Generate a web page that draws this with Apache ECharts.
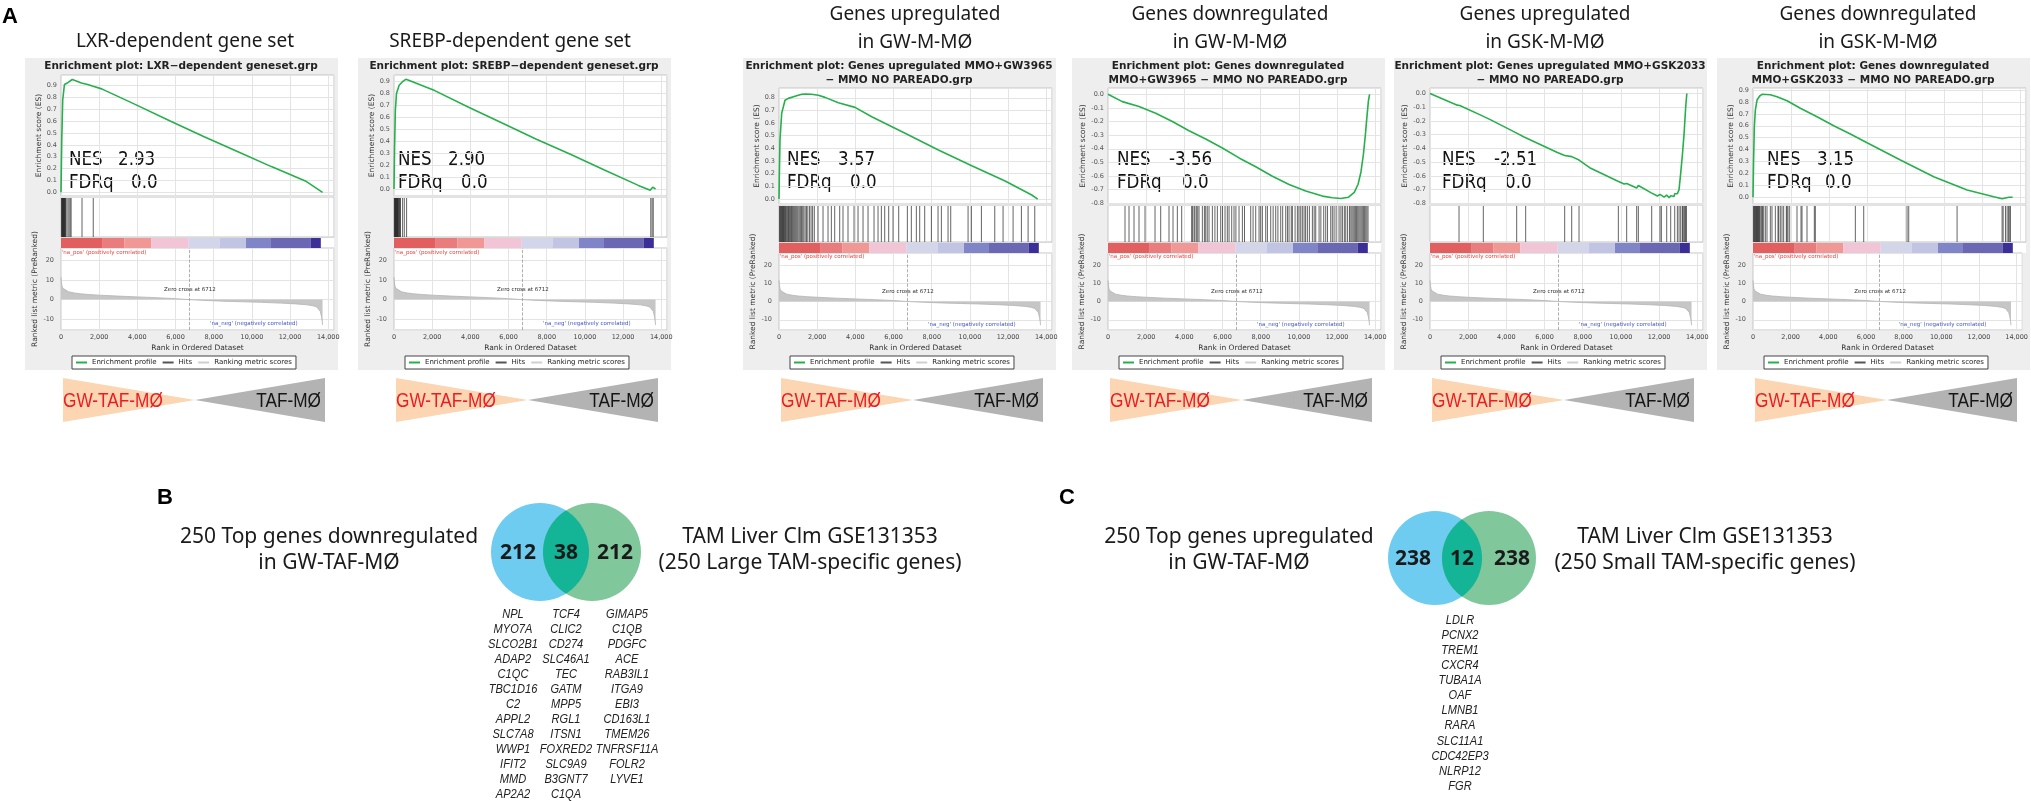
<!DOCTYPE html>
<html>
<head>
<meta charset="utf-8">
<script src="https://cdn.jsdelivr.net/npm/echarts@6.0.0/dist/echarts.min.js"></script>
<style>
html, body { margin: 0; padding: 0; background: #fff; }
#main { width: 2031px; height: 801px; }
</style>
</head>
<body>
<div id="main"></div>
<script>
// ---- data ----
var headings = [
  ['LXR-dependent gene set'],
  ['SREBP-dependent gene set'],
  ['Genes upregulated', 'in GW-M-MØ'],
  ['Genes downregulated', 'in GW-M-MØ'],
  ['Genes upregulated', 'in GSK-M-MØ'],
  ['Genes downregulated', 'in GSK-M-MØ']
];
var plotTitles = [
  ['Enrichment plot: LXR\u2212dependent geneset.grp'],
  ['Enrichment plot: SREBP\u2212dependent geneset.grp'],
  ['Enrichment plot: Genes upregulated MMO+GW3965', '\u2212 MMO NO PAREADO.grp'],
  ['Enrichment plot: Genes downregulated', 'MMO+GW3965 \u2212 MMO NO PAREADO.grp'],
  ['Enrichment plot: Genes upregulated MMO+GSK2033', '\u2212 MMO NO PAREADO.grp'],
  ['Enrichment plot: Genes downregulated', 'MMO+GSK2033 \u2212 MMO NO PAREADO.grp']
];
var nesValues = ['2.93', '2.90', '3.57', '-3.56', '-2.51', '3.15'];
var fdrValues = ['0.0', '0.0', '0.0', '0.0', '0.0', '0.0'];

// running enrichment score, [rank, ES]
var esLxr = [[0, 0], [40, 0.45], [90, 0.78], [180, 0.91], [260, 0.92], [355, 0.925], [450, 0.94],
  [590, 0.952], [800, 0.94], [1066, 0.922], [1100, 0.93], [1400, 0.91], [1680, 0.895], [1700, 0.9],
  [2130, 0.873], [3910, 0.74], [5690, 0.604], [7470, 0.471], [9240, 0.344], [11020, 0.217],
  [12800, 0.096], [13700, 0]];
var esSrebp = [[0, 0], [30, 0.35], [71, 0.66], [130, 0.8], [270, 0.87], [445, 0.9], [540, 0.91],
  [620, 0.92], [660, 0.915], [800, 0.91], [2130, 0.825], [3910, 0.685], [5690, 0.551], [7460, 0.417],
  [9240, 0.291], [11020, 0.159], [12800, 0.03], [13420, -0.01], [13450, 0.005], [13550, 0.015],
  [13620, 0.02], [13700, 0]];
var esUpGw = [[0, 0], [20, 0.2], [52, 0.466], [140, 0.677], [314, 0.78], [489, 0.795], [838, 0.811],
  [1188, 0.827], [1362, 0.83], [1700, 0.828], [2060, 0.82], [2410, 0.803], [3110, 0.76], [3983, 0.724],
  [4857, 0.65], [6604, 0.519], [8350, 0.387], [10096, 0.263], [11843, 0.142], [13240, 0.032], [13550, 0]];
var esDownGw = [[0, 0], [751, -0.054], [1624, -0.09], [2498, -0.139], [3371, -0.2], [4245, -0.268],
  [5118, -0.328], [5991, -0.394], [6865, -0.467], [7738, -0.532], [8612, -0.601], [9485, -0.662],
  [10358, -0.71], [11232, -0.747], [11756, -0.759], [12200, -0.765], [12600, -0.755], [12900, -0.72],
  [13100, -0.66], [13250, -0.57], [13380, -0.44], [13480, -0.3], [13560, -0.17], [13640, -0.05], [13700, 0]];
var esUpGsk = [[0, 0], [1431, -0.085], [1520, -0.075], [1560, -0.088], [2743, -0.163], [2793, -0.155],
  [2830, -0.167], [3180, -0.192], [4490, -0.285], [4540, -0.278], [4927, -0.317], [5011, -0.31],
  [6674, -0.43], [7055, -0.452], [7100, -0.445], [7422, -0.46], [7806, -0.485], [8420, -0.545],
  [9817, -0.637], [9866, -0.63], [10167, -0.66], [10302, -0.655], [10826, -0.688], [10866, -0.675],
  [10914, -0.67], [11565, -0.722], [11613, -0.71], [11914, -0.747], [12049, -0.735], [12120, -0.725],
  [12263, -0.755], [12399, -0.74], [12525, -0.76], [12608, -0.745], [12787, -0.75], [12818, -0.73],
  [12958, -0.73], [13045, -0.7], [13132, -0.58], [13219, -0.45], [13306, -0.3], [13393, -0.1], [13453, 0]];
var esDownGsk = [[0, 0], [30, 0.3], [70, 0.59], [122, 0.73], [210, 0.816], [350, 0.85], [472, 0.864],
  [909, 0.86], [1258, 0.844], [1782, 0.81], [2480, 0.747], [3354, 0.676], [4227, 0.6], [5100, 0.531],
  [5974, 0.458], [7720, 0.313], [9467, 0.173], [11214, 0.061], [12611, 0.005], [13047, -0.012],
  [13230, -0.005], [13400, 0], [13490, 0.008], [13600, 0]];

// positions of the gene-set members in the ranked list
var hitsLxr = [30, 50, 70, 90, 110, 130, 150, 170, 190, 210, 240, 270, 360, 420, 480, 530, 1100, 1690];
var hitsSrebp = [20, 40, 60, 80, 100, 120, 140, 160, 180, 200, 220, 250, 280, 310, 340, 450, 540, 660,
  13450, 13520, 13580];
var hitsUpGw = [30, 60, 90, 120, 150, 180, 210, 240, 270, 300, 340, 380, 420, 460, 500, 540, 580, 620,
  660, 700, 750, 800, 850, 900, 950, 1000, 1060, 1120, 1180, 1240, 1300, 1370, 1440, 1510, 1600, 1680,
  1760, 1850, 2044, 2306, 2568, 2743, 2917, 3179, 3353, 3615, 3930, 4140, 4402, 4664, 4978, 5188, 5362,
  5537, 5746, 5973, 6270, 6724, 6933, 7195, 7370, 7632, 7982, 8331, 8506, 8855, 8995, 9904, 10079,
  10603, 11302, 11737, 12262, 12698, 13048, 13397];
var hitsDownGw = [891, 1100, 1362, 1624, 1939, 2463, 2760, 3196, 3406, 3633, 3860, 4384, 4420, 4506,
  4550, 4629, 4700, 4768, 4943, 5050, 5118, 5200, 5292, 5467, 5600, 5729, 5904, 6000, 6131, 6250, 6341,
  6480, 6602, 6700, 6864, 7039, 7150, 7475, 7600, 7737, 7912, 8000, 8087, 8261, 8350, 8523, 8650, 8785,
  8900, 9047, 9150, 9309, 9400, 9483, 9600, 9658, 9800, 9920, 10000, 10095, 10180, 10270, 10350, 10444,
  10550, 10706, 10800, 10881, 11056, 11150, 11300, 11405, 11500, 11667, 11750, 11842, 11950, 12104,
  12200, 12279, 12380, 12453, 12550, 12650, 12720, 12780, 12840, 12900, 12960, 13020, 13080, 13140,
  13200, 13260, 13320, 13380, 13440, 13500, 13560, 13620];
var hitsUpGsk = [1520, 2793, 4540, 5011, 7055, 7422, 7806, 9866, 10302, 10826, 10914, 11613, 12049,
  12120, 12399, 12608, 12818, 12958, 13045, 13132, 13219, 13250, 13306, 13350, 13393, 13430];
var hitsDownGsk = [30, 60, 90, 120, 150, 180, 210, 240, 270, 300, 330, 360, 419, 471, 489, 559, 646,
  733, 908, 995, 1170, 1309, 1345, 1431, 1519, 1606, 1746, 1781, 1833, 1921, 2305, 2515, 2567, 2829,
  3213, 3265, 5361, 5799, 8068, 8156, 10690, 13047, 13103, 13225, 13312, 13396, 13417, 13486];

// ranked list metric (same list in every panel)
var metricRanks = [0, 20, 50, 100, 200, 400, 700, 1000, 1500, 2000, 3000, 4000, 5000, 6000, 6712,
  7500, 8500, 9500, 10500, 11500, 12300, 12900, 13200, 13400, 13500, 13580, 13640, 13680, 13700];
var metricScores = [11.5, 9, 7, 5.8, 4.8, 4, 3.4, 3, 2.6, 2.3, 1.8, 1.4, 1, 0.5, 0, -0.4, -0.8, -1.1,
  -1.4, -1.8, -2.2, -2.7, -3.2, -3.8, -4.5, -6, -8.5, -11, -13];
var zeroCross = 6712;
var colorBarEdges = [0, 2150, 3330, 4720, 6690, 8300, 9690, 10960, 13090, 13610];

// Venn diagrams
var vennBCounts = [212, 38, 212];
var vennCCounts = [238, 12, 238];
var vennBLeft = ['250 Top genes downregulated', 'in GW-TAF-MØ'];
var vennBRight = ['TAM Liver Clm GSE131353', '(250 Large TAM-specific genes)'];
var vennCLeft = ['250 Top genes upregulated', 'in GW-TAF-MØ'];
var vennCRight = ['TAM Liver Clm GSE131353', '(250 Small TAM-specific genes)'];
var genesB1 = ['NPL', 'MYO7A', 'SLCO2B1', 'ADAP2', 'C1QC', 'TBC1D16', 'C2', 'APPL2', 'SLC7A8', 'WWP1', 'IFIT2', 'MMD', 'AP2A2'];
var genesB2 = ['TCF4', 'CLIC2', 'CD274', 'SLC46A1', 'TEC', 'GATM', 'MPP5', 'RGL1', 'ITSN1', 'FOXRED2', 'SLC9A9', 'B3GNT7', 'C1QA'];
var genesB3 = ['GIMAP5', 'C1QB', 'PDGFC', 'ACE', 'RAB3IL1', 'ITGA9', 'EBI3', 'CD163L1', 'TMEM26', 'TNFRSF11A', 'FOLR2', 'LYVE1'];
var genesC = ['LDLR', 'PCNX2', 'TREM1', 'CXCR4', 'TUBA1A', 'OAF', 'LMNB1', 'RARA', 'SLC11A1', 'CDC42EP3', 'NLRP12', 'FGR'];

// ---- layout / styles ----
var panelEs = [esLxr, esSrebp, esUpGw, esDownGw, esUpGsk, esDownGsk];
var panelHits = [hitsLxr, hitsSrebp, hitsUpGw, hitsDownGw, hitsUpGsk, hitsDownGsk];
var boxLeft = [25, 358, 743, 1072, 1394, 1717];
var headCenter = [185, 510, 915, 1230, 1545, 1878];
var nesPos = [[8, 57, 70], [4, 54, 67], [8, 59, 71], [9, 61, 74], [12, 64, 75], [14, 64, 72]];
var esRange = [[-0.031, 0.99], [-0.059, 0.956], [-0.039, 0.877], [-0.805, 0.046], [-0.805, 0.04], [-0.056, 0.917]];
var colorBarColors = ['#e25f5f', '#e97c7d', '#ef9896', '#f2c5d6', '#d3d5eb', '#c2c4e3', '#7f85c7', '#6a68b3', '#3b2f97'];
var XMAX = 14300;
var green = '#26b04b';
var dv = '"DejaVu Sans", sans-serif';

var chart = echarts.init(document.getElementById('main'));
var grids = [], xAxes = [], yAxes = [], series = [], legends = [], graphics = [];

function onStep(v, step) {
  var q = v / step;
  return Math.abs(q - Math.round(q)) < 1e-6;
}
function txt(x, y, s, font, color, align, scaleX) {
  var el = {
    type: 'text', x: x, y: y, silent: true,
    style: { text: s, font: font, fill: color || '#222', textAlign: align || 'center', textVerticalAlign: 'middle' }
  };
  if (scaleX) el.scaleX = scaleX;
  return el;
}
function xAxisFor(gi, withLabels, grid) {
  return {
    type: 'value', gridIndex: gi, min: 0, max: XMAX, interval: 2000,
    axisLine: { show: false }, axisTick: { show: false },
    splitLine: { show: grid, lineStyle: { color: '#e4e4e4', width: 1 } },
    axisLabel: withLabels ? {
      fontSize: 6.5, color: '#444', margin: 4, fontFamily: dv,
      formatter: function (v) { return onStep(v, 2000) ? v.toLocaleString('en-US') : ''; }
    } : { show: false },
    name: withLabels ? 'Rank in Ordered Dataset' : '',
    nameLocation: 'middle', nameGap: 14,
    nameTextStyle: { fontSize: 7.5, color: '#333', fontFamily: dv }
  };
}

for (var i = 0; i < 6; i++) {
  var bl = boxLeft[i], pl = bl + 36, pw = 273;
  var two = headings[i].length > 1;
  var esTop = two ? 88 : 75, esH = two ? 116 : 121;
  var hitsTop = esTop + esH + 1, hitsH = two ? 37 : 40;
  var cbTop = hitsTop + hitsH + 1, cbH = 10;
  var mTop = cbTop + cbH, mH = 330 - mTop;
  var g = grids.length;

  grids.push({ left: pl, top: esTop, width: pw, height: esH, show: true, backgroundColor: '#fff', borderColor: '#c4c4c4', borderWidth: 1 });
  grids.push({ left: pl, top: hitsTop, width: pw, height: hitsH, show: true, backgroundColor: '#fff', borderColor: '#c4c4c4', borderWidth: 1 });
  grids.push({ left: pl, top: cbTop, width: pw, height: cbH, show: true, backgroundColor: '#fff', borderWidth: 0 });
  grids.push({ left: pl, top: mTop, width: pw, height: mH, show: true, backgroundColor: '#fff', borderColor: '#c4c4c4', borderWidth: 1 });

  xAxes.push(xAxisFor(g, false, true));
  xAxes.push(xAxisFor(g + 1, false, true));
  xAxes.push(xAxisFor(g + 2, false, false));
  xAxes.push(xAxisFor(g + 3, true, true));

  yAxes.push({
    type: 'value', gridIndex: g, min: esRange[i][0], max: esRange[i][1],
    splitNumber: 10, minInterval: 0.1, maxInterval: 0.1,
    axisLine: { show: false }, axisTick: { show: false },
    splitLine: { lineStyle: { color: '#e4e4e4' } },
    axisLabel: {
      fontSize: 6.5, color: '#555', margin: 4, fontFamily: dv,
      formatter: function (v) { return onStep(v, 0.1) ? v.toFixed(1) : ''; }
    },
    name: 'Enrichment score (ES)', nameLocation: 'middle', nameGap: 18,
    nameTextStyle: { fontSize: 7.5, color: '#333', fontFamily: dv }
  });
  yAxes.push({ type: 'value', gridIndex: g + 1, min: 0, max: 1, show: false });
  yAxes.push({ type: 'value', gridIndex: g + 2, min: 0, max: 1, show: false });
  yAxes.push({
    type: 'value', gridIndex: g + 3, min: -15.6, max: 26.5,
    splitNumber: 4, minInterval: 10, maxInterval: 10,
    axisLine: { show: false }, axisTick: { show: false },
    splitLine: { lineStyle: { color: '#e4e4e4' } },
    axisLabel: {
      fontSize: 6.5, color: '#555', margin: 7, fontFamily: dv,
      formatter: function (v) { return onStep(v, 10) ? String(Math.round(v)) : ''; }
    },
    name: 'Ranked list metric (PreRanked)', nameLocation: 'middle', nameGap: 18,
    nameTextStyle: { fontSize: 7.5, color: '#333', fontFamily: dv }
  });

  series.push({
    type: 'line', name: 'Enrichment profile', xAxisIndex: g, yAxisIndex: g,
    data: panelEs[i], showSymbol: false, silent: true, z: 4,
    lineStyle: { color: green, width: 1.6 }, itemStyle: { color: green }
  });
  series.push({
    type: 'custom', name: 'Hits', xAxisIndex: g + 1, yAxisIndex: g + 1, silent: true,
    data: panelHits[i].map(function (r) { return [r, 0]; }),
    encode: { x: 0, y: 1 },
    itemStyle: { color: '#555' },
    renderItem: function (params, api) {
      var a = api.coord([api.value(0), 1]);
      var b = api.coord([api.value(0), 0]);
      return { type: 'line', shape: { x1: a[0], y1: a[1] + 1, x2: b[0], y2: b[1] }, style: { stroke: '#1c1c1c', lineWidth: 1, opacity: 0.68 } };
    }
  });
  series.push({
    type: 'custom', name: 'Color bar', xAxisIndex: g + 2, yAxisIndex: g + 2, silent: true,
    data: colorBarEdges.slice(0, -1).map(function (s, k) { return [s, colorBarEdges[k + 1], k, 0]; }),
    encode: { x: [0, 1], y: 3 },
    renderItem: function (params, api) {
      var a = api.coord([api.value(0), 1]);
      var b = api.coord([api.value(1), 0]);
      return { type: 'rect', shape: { x: a[0], y: a[1], width: b[0] - a[0], height: b[1] - a[1] }, style: { fill: colorBarColors[api.value(2)] } };
    }
  });
  series.push({
    type: 'line', name: 'Ranking metric scores', xAxisIndex: g + 3, yAxisIndex: g + 3, silent: true,
    data: metricRanks.map(function (r, k) { return [r, metricScores[k]]; }),
    showSymbol: false, z: 3,
    lineStyle: { color: '#b4b4b4', width: 0.8 }, itemStyle: { color: '#c8c8c8' },
    areaStyle: { color: '#c6c6c6', opacity: 1 },
    markLine: {
      silent: true, symbol: ['none', 'none'], label: { show: false },
      lineStyle: { type: 'dashed', color: '#9a9a9a', width: 0.8 },
      data: [{ xAxis: zeroCross }]
    },
    markPoint: {
      silent: true, symbol: 'circle', symbolSize: 0.1, itemStyle: { color: 'rgba(0,0,0,0)' },
      label: { fontSize: 5.5, fontFamily: dv },
      data: [
        { coord: [zeroCross + 40, 5.2], label: { formatter: 'Zero cross at ' + zeroCross, color: '#333', position: 'inside' } },
        { coord: [40, 24.3], label: { formatter: "'na_pos' (positively correlated)", color: '#e8443f', position: 'right', distance: 0 } },
        { coord: [12400, -12.4], label: { formatter: "'na_neg' (negatively correlated)", color: '#4457c4', position: 'left', distance: 0 } }
      ]
    }
  });

  legends.push({
    left: bl + 47, top: 356, orient: 'horizontal', selectedMode: false,
    itemWidth: 11, itemHeight: 2, itemGap: 6, padding: [3, 4],
    borderColor: '#444', borderWidth: 1, backgroundColor: '#fff', borderRadius: 0,
    textStyle: { fontSize: 7, color: '#222', fontFamily: dv },
    data: [
      { name: 'Enrichment profile', icon: 'rect', itemStyle: { color: green } },
      { name: 'Hits', icon: 'rect', itemStyle: { color: '#555' } },
      { name: 'Ranking metric scores', icon: 'rect', itemStyle: { color: '#cfcfcf' } }
    ]
  });

  // panel background, headings, titles, NES
  graphics.push({ type: 'rect', z: -10, silent: true, shape: { x: bl, y: 58, width: 313, height: 312 }, style: { fill: '#eeeeee' } });
  if (two) {
    graphics.push(txt(headCenter[i], 15, headings[i][0], '19px "Noto Sans"', '#1a1a1a'));
    graphics.push(txt(headCenter[i], 43, headings[i][1], '19px "Noto Sans"', '#1a1a1a'));
    graphics.push(txt(bl + 156, 66, plotTitles[i][0], 'bold 10.5px ' + dv, '#222'));
    graphics.push(txt(bl + 156, 80, plotTitles[i][1], 'bold 10.5px ' + dv, '#222'));
  } else {
    graphics.push(txt(headCenter[i], 42, headings[i][0], '19px "Noto Sans"', '#1a1a1a'));
    graphics.push(txt(bl + 156, 66, plotTitles[i][0], 'bold 10.5px ' + dv, '#222'));
  }
  var nf = '19px "DejaVu Sans"';
  graphics.push(txt(pl + nesPos[i][0], 160, 'NES', nf, '#111', 'left', 0.88));
  graphics.push(txt(pl + nesPos[i][1], 160, nesValues[i], nf, '#111', 'left', 0.88));
  graphics.push(txt(pl + nesPos[i][0], 183, 'FDRq', nf, '#111', 'left', 0.88));
  graphics.push(txt(pl + nesPos[i][2], 183, fdrValues[i], nf, '#111', 'left', 0.88));

  // phenotype triangles
  graphics.push({ type: 'polygon', silent: true, shape: { points: [[bl + 38, 378], [bl + 170, 400], [bl + 38, 422]] }, style: { fill: '#fcd6b2' } });
  graphics.push({ type: 'polygon', silent: true, shape: { points: [[bl + 170, 400], [bl + 300, 378], [bl + 300, 422]] }, style: { fill: '#b3b3b3' } });
  graphics.push(txt(bl + 38, 401, 'GW-TAF-MØ', '21px "Liberation Sans"', '#ec1c24', 'left', 0.82));
  graphics.push(txt(bl + 296, 401, 'TAF-MØ', '21px "Liberation Sans"', '#151515', 'right', 0.82));
}

graphics.push(txt(10, 17, 'A', 'bold 22px "Liberation Sans"', '#000'));

function lensPoints(cx1, cx2, cy, r) {
  var hd = (cx2 - cx1) / 2, a = Math.acos(hd / r), pts = [], n = 40, k, t;
  for (k = 0; k <= n; k++) {
    t = -a + 2 * a * k / n;
    pts.push([cx1 + r * Math.cos(t), cy + r * Math.sin(t)]);
  }
  for (k = 0; k <= n; k++) {
    t = a - 2 * a * k / n;
    pts.push([cx2 - r * Math.cos(t), cy + r * Math.sin(t)]);
  }
  return pts;
}
function venn(label, lx, ly, cx1, cx2, cy, r, counts, leftText, leftX, rightText, rightX) {
  var tf = '21px "Noto Sans"', cf = 'bold 21px "Noto Sans"';
  graphics.push(txt(lx, ly, label, 'bold 22px "Liberation Sans"', '#000'));
  graphics.push(txt(leftX, 537, leftText[0], tf, '#1a1a1a'));
  graphics.push(txt(leftX, 563, leftText[1], tf, '#1a1a1a'));
  graphics.push(txt(rightX, 537, rightText[0], tf, '#1a1a1a'));
  graphics.push(txt(rightX, 563, rightText[1], tf, '#1a1a1a'));
  graphics.push({ type: 'circle', silent: true, shape: { cx: cx1, cy: cy, r: r }, style: { fill: '#6dccf0' } });
  graphics.push({ type: 'circle', silent: true, shape: { cx: cx2, cy: cy, r: r }, style: { fill: '#80c89b' } });
  graphics.push({ type: 'polygon', silent: true, shape: { points: lensPoints(cx1, cx2, cy, r) }, style: { fill: '#14b497' } });
  var xm = (cx1 + cx2) / 2;
  graphics.push(txt(cx1 - 22, cy + 1, String(counts[0]), cf, '#1a1a1a'));
  graphics.push(txt(xm, cy + 1, String(counts[1]), cf, '#1a1a1a'));
  graphics.push(txt(cx2 + 23, cy + 1, String(counts[2]), cf, '#1a1a1a'));
}
function geneColumn(list, x, y0, step) {
  list.forEach(function (s, k) {
    graphics.push(txt(x, y0 + k * step, s, 'italic 13.5px "Liberation Sans"', '#222', 'center', 0.82));
  });
}

venn('B', 165, 498, 540, 592, 552, 49, vennBCounts, vennBLeft, 329, vennBRight, 810);
geneColumn(genesB1, 513, 614, 15);
geneColumn(genesB2, 566, 614, 15);
geneColumn(genesB3, 627, 614, 15);

venn('C', 1067, 498, 1435, 1489, 558, 47, vennCCounts, vennCLeft, 1239, vennCRight, 1705);
geneColumn(genesC, 1460, 620, 15.1);

chart.setOption({
  animation: false,
  backgroundColor: '#fff',
  grid: grids,
  xAxis: xAxes,
  yAxis: yAxes,
  legend: legends,
  series: series,
  graphic: { elements: graphics }
});
</script>
</body>
</html>
